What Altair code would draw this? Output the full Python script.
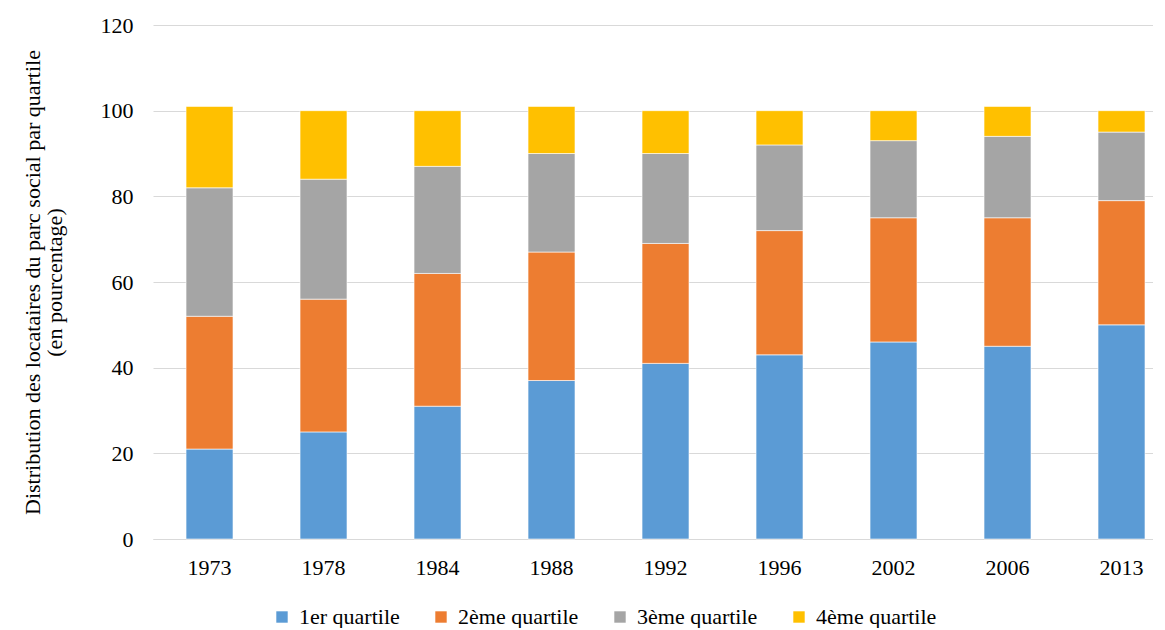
import altair as alt
import pandas as pd

years = ["1973", "1978", "1984", "1988", "1992", "1996", "2002", "2006", "2013"]
quartiles = ["1er quartile", "2ème quartile", "3ème quartile", "4ème quartile"]
q1 = [21, 25, 31, 37, 41, 43, 46, 45, 50]
q2 = [31, 31, 31, 30, 28, 29, 29, 30, 29]
q3 = [30, 28, 25, 23, 21, 20, 18, 19, 16]
q4 = [19, 16, 13, 11, 10, 8, 7, 7, 5]
colors = ["#5b9bd5", "#ed7d31", "#a5a5a5", "#ffc000"]

rows = []
for qi, (qname, vals) in enumerate(zip(quartiles, [q1, q2, q3, q4])):
    for y, v in zip(years, vals):
        rows.append({"Année": y, "Quartile": qname, "Valeur": v, "ordre": qi})
df = pd.DataFrame(rows)

font = "Liberation Serif"
fs = 22

chart = alt.Chart(df).mark_bar(stroke="white", strokeWidth=0.6).encode(
    x=alt.X("Année:N", sort=years, title=None,
            scale=alt.Scale(paddingInner=0.588, paddingOuter=0.18, align=0.805),
            axis=alt.Axis(labelAngle=0, ticks=False, domainColor="#d9d9d9",
                          labelFontSize=fs, labelFont=font, labelColor="black",
                          labelPadding=18)),
    y=alt.Y("Valeur:Q", stack="zero",
            scale=alt.Scale(domain=[0, 120]),
            title=["Distribution des locataires du parc social par quartile", "(en pourcentage)"],
            axis=alt.Axis(values=[0, 20, 40, 60, 80, 100, 120], domain=False, ticks=False,
                          gridColor="#d9d9d9", labelFontSize=fs, labelFont=font,
                          labelColor="black", labelPadding=20,
                          titleFontSize=fs, titleFont=font, titleFontWeight="normal",
                          titleColor="black", titlePadding=34, titleLineHeight=22)),
    color=alt.Color("Quartile:N", sort=quartiles,
                    scale=alt.Scale(domain=quartiles, range=colors),
                    legend=alt.Legend(orient="none", direction="horizontal", title=None,
                                      legendX=118, legendY=581,
                                      symbolType="square", symbolSize=130, symbolStrokeWidth=0,
                                      labelFontSize=fs, labelFont=font, labelColor="black",
                                      labelOffset=6, columnPadding=30)),
    order=alt.Order("ordre:Q", sort="ascending"),
).properties(
    width=1000, height=514,
    padding={"left": 12, "top": 6, "right": 0, "bottom": 0},
).configure(font=font).configure_view(stroke=None)

chart.save("out.html", embed_options={"renderer": "svg", "actions": False})
